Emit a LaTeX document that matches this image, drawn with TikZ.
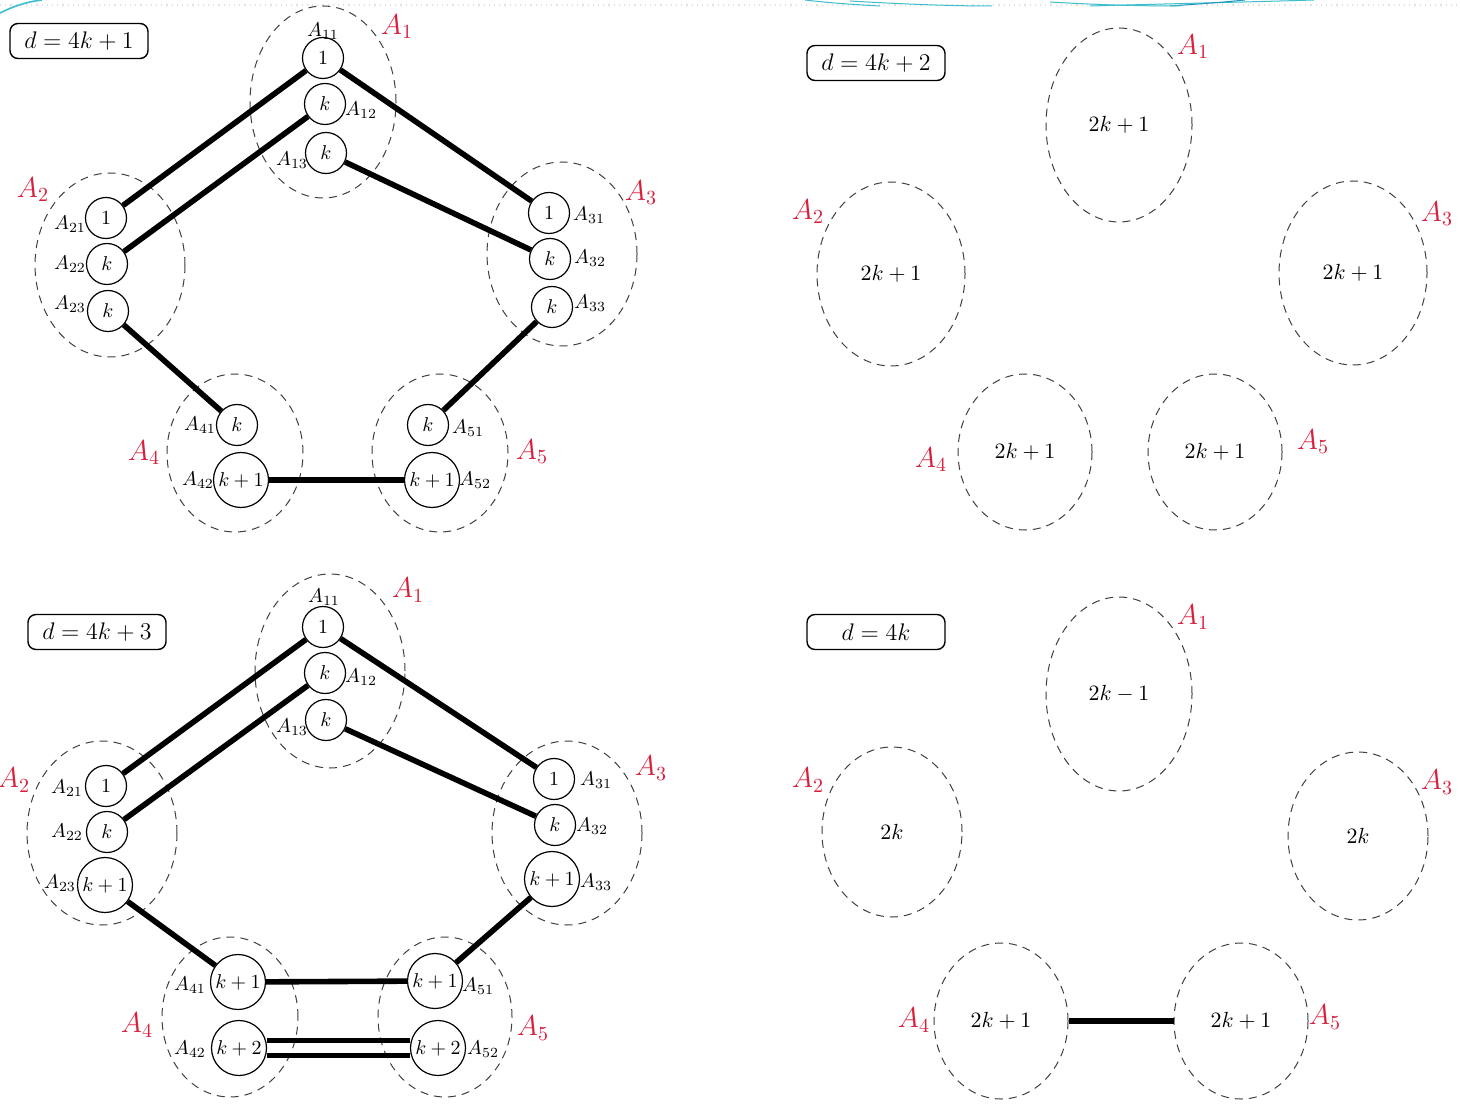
\documentclass[tikz,border=0pt]{standalone}
\usetikzlibrary{shapes.geometric}
\definecolor{setred}{RGB}{218,30,60}
\definecolor{swooshcyan}{RGB}{60,190,205}
\definecolor{swooshblue}{RGB}{30,150,190}
\begin{document}
\begin{tikzpicture}[x=0.5pt,y=-0.5pt,
  grp/.style={ellipse, draw=black!75, dash pattern=on 4pt off 3pt, line width=0.5pt, inner sep=0pt,
              font=\fontsize{10.5}{12}\selectfont},
  vtx/.style={circle, draw, line width=0.6pt, inner sep=0pt, minimum size=20.5pt,
              font=\fontsize{10}{12}\selectfont},
  bigvtx/.style={vtx, minimum size=27.5pt},
  edge/.style={line width=2.8pt},
  setlbl/.style={text=setred, inner sep=0pt, font=\fontsize{14.5}{16}\selectfont},
  sublbl/.style={inner sep=0pt, font=\fontsize{10}{11}\selectfont},
  casebox/.style={draw, rounded corners=4pt, line width=0.7pt, minimum width=69pt,
              minimum height=17.5pt, inner sep=0pt, font=\fontsize{13}{15}\selectfont},
  swoosh/.style={line width=0.5pt, swooshcyan}
]
\useasboundingbox (0,0) rectangle (1460,1106);
\fill[white] (0,0) rectangle (1460,1106);

% slide header decoration
\draw[gray!25, line width=0.6pt, dotted] (0,5) -- (1460,5);
\draw[swoosh, line width=0.8pt] (0,13) .. controls (12,7) and (25,2) .. (42,0);
\draw[swoosh] (805,0) .. controls (830,3) and (860,5) .. (880,6);
\draw[swoosh] (850,1) .. controls (900,4) and (950,6) .. (992,6);
\draw[swoosh] (1090,6) .. controls (1160,4) and (1250,2) .. (1314,0);
\draw[swoosh, swooshblue] (1170,6) .. controls (1200,4) and (1225,2) .. (1245,0);
\draw[swoosh] (1050,2) .. controls (1100,5) and (1140,6) .. (1180,6);

% ---------- case d = 4k+1 ----------
\node[casebox] (tlcase) at (79,41) {$d = 4k+1$};
\node[grp, minimum width=73pt, minimum height=96pt] (tlA1) at (323,102) {};
\node[grp, minimum width=75pt, minimum height=92pt] (tlA2) at (110,265) {};
\node[grp, minimum width=75pt, minimum height=92pt] (tlA3) at (562,254) {};
\node[grp, minimum width=68pt, minimum height=79pt] (tlA4) at (235,453) {};
\node[grp, minimum width=68pt, minimum height=79pt] (tlA5) at (440,453) {};
\node[setlbl] (tlL1) at (397,27) {$A_1$};
\node[setlbl] (tlL2) at (33,190) {$A_2$};
\node[setlbl] (tlL3) at (641,193) {$A_3$};
\node[setlbl] (tlL4) at (144,453) {$A_4$};
\node[setlbl] (tlL5) at (532,452) {$A_5$};

\node[vtx] (tl11) at (323,58) {$1$};
\node[vtx] (tl12) at (325,104) {$k$};
\node[vtx] (tl13) at (326,153) {$k$};
\node[vtx] (tl21) at (106,218) {$1$};
\node[vtx] (tl22) at (107,264) {$k$};
\node[vtx] (tl23) at (108,311) {$k$};
\node[vtx] (tl31) at (549,213) {$1$};
\node[vtx] (tl32) at (550,259) {$k$};
\node[vtx] (tl33) at (552,307) {$k$};
\node[vtx] (tl41) at (237,425) {$k$};
\node[bigvtx] (tl42) at (241,480) {$k+1$};
\node[vtx] (tl51) at (428,425) {$k$};
\node[bigvtx] (tl52) at (432,480) {$k+1$};

\node[sublbl] (tls11) at (323,31) {$A_{11}$};
\node[sublbl] (tls12) at (361,110) {$A_{12}$};
\node[sublbl] (tls13) at (292,160) {$A_{13}$};
\node[sublbl] (tls21) at (70,224) {$A_{21}$};
\node[sublbl] (tls22) at (70,264) {$A_{22}$};
\node[sublbl] (tls23) at (70,304) {$A_{23}$};
\node[sublbl] (tls31) at (589,215) {$A_{31}$};
\node[sublbl] (tls32) at (590,258) {$A_{32}$};
\node[sublbl] (tls33) at (590,303) {$A_{33}$};
\node[sublbl] (tls41) at (200,425) {$A_{41}$};
\node[sublbl] (tls42) at (198,480) {$A_{42}$};
\node[sublbl] (tls51) at (468,428) {$A_{51}$};
\node[sublbl] (tls52) at (475,480) {$A_{52}$};

\draw[edge] (tl11) -- (tl21);
\draw[edge] (tl12) -- (tl22);
\draw[edge] (tl11) -- (tl31);
\draw[edge] (tl13) -- (tl32);
\draw[edge] (tl23) -- (tl41);
\draw[edge] (tl33) -- (tl51);
\draw[edge] (tl42) -- (tl52);

% ---------- case d = 4k+3 ----------
\node[casebox] (blcase) at (97,632) {$d = 4k+3$};
\node[grp, minimum width=75pt, minimum height=97pt] (blA1) at (330,671) {};
\node[grp, minimum width=75pt, minimum height=92pt] (blA2) at (102,833) {};
\node[grp, minimum width=75pt, minimum height=92pt] (blA3) at (567,833) {};
\node[grp, minimum width=68pt, minimum height=80pt] (blA4) at (230,1017) {};
\node[grp, minimum width=67pt, minimum height=80pt] (blA5) at (445,1017) {};
\node[setlbl] (blL1) at (408,590) {$A_1$};
\node[setlbl] (blL2) at (14,780) {$A_2$};
\node[setlbl] (blL3) at (651,768) {$A_3$};
\node[setlbl] (blL4) at (137,1025) {$A_4$};
\node[setlbl] (blL5) at (533,1028) {$A_5$};

\node[vtx] (bl11) at (323,627) {$1$};
\node[vtx] (bl12) at (325,673) {$k$};
\node[vtx] (bl13) at (326,720) {$k$};
\node[vtx] (bl21) at (106,786) {$1$};
\node[vtx] (bl22) at (107,832) {$k$};
\node[bigvtx] (bl23) at (105,885) {$k+1$};
\node[vtx] (bl31) at (554,779) {$1$};
\node[vtx] (bl32) at (555,825) {$k$};
\node[bigvtx] (bl33) at (552,879) {$k+1$};
\node[bigvtx] (bl41) at (238,982) {$k+1$};
\node[bigvtx] (bl42) at (239,1048) {$k+2$};
\node[bigvtx] (bl51) at (435,981) {$k+1$};
\node[bigvtx] (bl52) at (438,1048) {$k+2$};

\node[sublbl] (bls11) at (324,597) {$A_{11}$};
\node[sublbl] (bls12) at (361,677) {$A_{12}$};
\node[sublbl] (bls13) at (292,727) {$A_{13}$};
\node[sublbl] (bls21) at (67,788) {$A_{21}$};
\node[sublbl] (bls22) at (67,832) {$A_{22}$};
\node[sublbl] (bls23) at (60,883) {$A_{23}$};
\node[sublbl] (bls31) at (596,780) {$A_{31}$};
\node[sublbl] (bls32) at (592,826) {$A_{32}$};
\node[sublbl] (bls33) at (596,882) {$A_{33}$};
\node[sublbl] (bls41) at (190,985) {$A_{41}$};
\node[sublbl] (bls42) at (190,1049) {$A_{42}$};
\node[sublbl] (bls51) at (478,986) {$A_{51}$};
\node[sublbl] (bls52) at (483,1049) {$A_{52}$};

\draw[edge] (bl11) -- (bl21);
\draw[edge] (bl12) -- (bl22);
\draw[edge] (bl11) -- (bl31);
\draw[edge] (bl13) -- (bl32);
\draw[edge] (bl23) -- (bl41);
\draw[edge] (bl33) -- (bl51);
\draw[edge] (bl41) -- (bl51);
\draw[edge, line width=2.2pt] ([yshift=3.8pt]bl42.east) -- ([yshift=3.8pt]bl52.west);
\draw[edge, line width=2.2pt] ([yshift=-3.8pt]bl42.east) -- ([yshift=-3.8pt]bl52.west);

% ---------- case d = 4k+2 ----------
\node[casebox] (trcase) at (876,63) {$d = 4k+2$};
\node[grp, minimum width=73pt, minimum height=97pt] (trA1) at (1119,125) {$2k+1$};
\node[grp, minimum width=74pt, minimum height=92pt] (trA2) at (891,274) {$2k+1$};
\node[grp, minimum width=74pt, minimum height=92pt] (trA3) at (1353,273) {$2k+1$};
\node[grp, minimum width=67pt, minimum height=78pt] (trA4) at (1025,452) {$2k+1$};
\node[grp, minimum width=67pt, minimum height=78pt] (trA5) at (1215,452) {$2k+1$};
\node[setlbl] (trL1) at (1193,47) {$A_1$};
\node[setlbl] (trL2) at (808,212) {$A_2$};
\node[setlbl] (trL3) at (1437,214) {$A_3$};
\node[setlbl] (trL4) at (931,460) {$A_4$};
\node[setlbl] (trL5) at (1313,442) {$A_5$};

% ---------- case d = 4k ----------
\node[casebox] (brcase) at (876,632) {$d = 4k$};
\node[grp, minimum width=73pt, minimum height=97pt] (brA1) at (1119,694) {$2k-1$};
\node[grp, minimum width=70pt, minimum height=85pt] (brA2) at (892,832) {$2k$};
\node[grp, minimum width=70pt, minimum height=84pt] (brA3) at (1358,836) {$2k$};
\node[grp, minimum width=67pt, minimum height=78pt] (brA4) at (1001,1021) {$2k+1$};
\node[grp, minimum width=67pt, minimum height=78pt] (brA5) at (1241,1021) {$2k+1$};
\node[setlbl] (brL1) at (1193,617) {$A_1$};
\node[setlbl] (brL2) at (808,780) {$A_2$};
\node[setlbl] (brL3) at (1437,782) {$A_3$};
\node[setlbl] (brL4) at (914,1020) {$A_4$};
\node[setlbl] (brL5) at (1325,1017) {$A_5$};

\draw[edge] (brA4) -- (brA5);
\end{tikzpicture}
\end{document}
